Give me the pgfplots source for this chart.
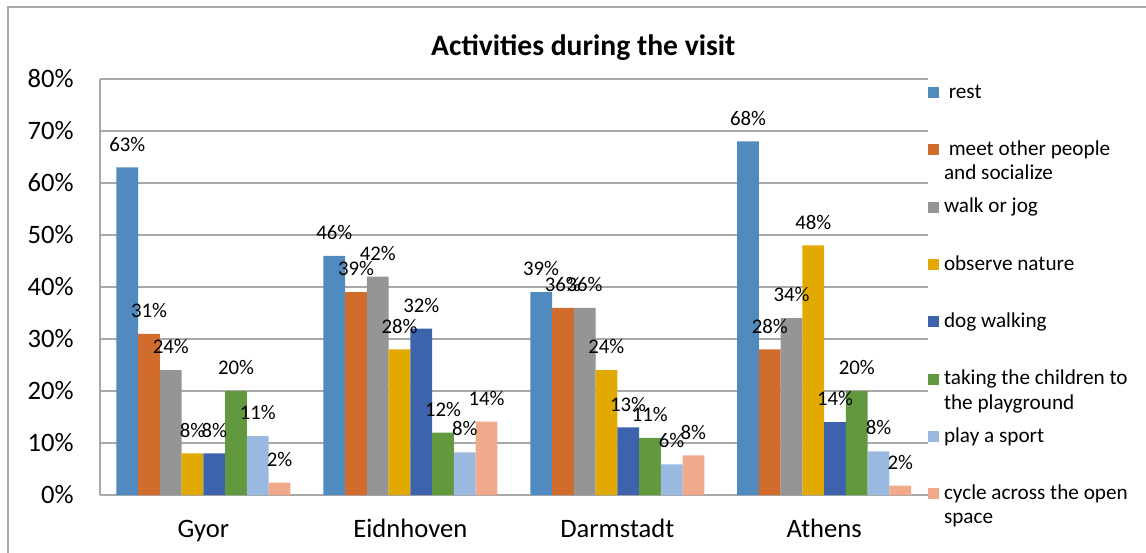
\documentclass[border=0pt]{standalone}
\usepackage{pgfplots}
\pgfplotsset{compat=1.18}
\usepackage{pgfplotstable}
\usepackage{fontspec}
\setmainfont{Carlito}
\definecolor{cRest}{RGB}{80,138,190}
\definecolor{cMeet}{RGB}{210,108,44}
\definecolor{cWalk}{RGB}{149,149,149}
\definecolor{cObs}{RGB}{226,170,0}
\definecolor{cDog}{RGB}{60,99,172}
\definecolor{cKids}{RGB}{99,153,62}
\definecolor{cSport}{RGB}{154,185,224}
\definecolor{cCycle}{RGB}{240,169,138}
\definecolor{gridgray}{RGB}{168,168,168}
\definecolor{framegray}{RGB}{168,168,168}

\pgfplotstableread{
x rest meet walk obs dog kids sport cycle
0 63 31 24 8 8 20 11.3 2.4
1 46 39 42 28 32 12 8.2 14.1
2 39 36 36 24 13 11 5.9 7.6
3 68 28 34 48 14 20 8.4 1.8
}\datatable

\newcommand{\LE}[1]{\parbox[t]{120pt}{\fontsize{10.6pt}{12.25pt}\selectfont\strut #1}}

\begin{document}
\begin{tikzpicture}
\draw[framegray, line width=0.7pt] (4pt,-10pt) rectangle (590pt,272.5pt);
\begin{axis}[
  at={(50pt,28.5pt)}, anchor=south west,
  scale only axis, width=413.8pt, height=208pt,
  xmin=-0.5, xmax=3.5, ymin=0, ymax=80,
  ybar=0pt, bar width=10.875pt,
  xtick={0,1,2,3}, xticklabels={Gyor,Eidnhoven,Darmstadt,Athens},
  ytick={0,10,20,30,40,50,60,70,80},
  yticklabels={0\%,10\%,20\%,30\%,40\%,50\%,60\%,70\%,80\%},
  ymajorgrids, grid style={gridgray, line width=0.7pt},
  axis x line*=bottom, axis y line*=left,
  axis line style={gridgray, line width=0.7pt, -},
  major tick length=0pt,
  tick label style={font=\fontsize{13.3pt}{16pt}\selectfont},
  yticklabel style={anchor=east, inner sep=0pt, xshift=-13pt},
  xticklabel style={anchor=base, inner sep=0pt, yshift=-21pt},
  nodes near coords={\pgfmathprintnumber[fixed,precision=0,assume math mode=true]{\pgfplotspointmeta}\%},
  every node near coord/.append style={font=\fontsize{10.4pt}{12pt}\selectfont, anchor=base, inner sep=0pt, yshift=8.2pt, text=black},
  legend style={at={(1,1)}, anchor=north west, yshift=-1pt, draw=none, fill=none, inner sep=0pt, outer sep=0pt, row sep=18.58pt, column sep=2.7pt, font=\fontsize{10.6pt}{12.25pt}\selectfont, cells={anchor=base west}, nodes={inner sep=0pt}},
  legend image code/.code={\fill[#1] (0pt,0pt) rectangle (5.5pt,5.5pt);},
  clip=false,
]
\addplot[fill=cRest, draw=none] table[x=x,y=rest]{\datatable};
\addlegendentry{\LE{\ rest}}
\addplot[fill=cMeet, draw=none] table[x=x,y=meet]{\datatable};
\addlegendentry{\LE{\ meet other people\newline and socialize}}
\addplot[fill=cWalk, draw=none] table[x=x,y=walk]{\datatable};
\addlegendentry{\LE{walk or jog}}
\addplot[fill=cObs, draw=none] table[x=x,y=obs]{\datatable};
\addlegendentry{\LE{observe nature}}
\addplot[fill=cDog, draw=none] table[x=x,y=dog]{\datatable};
\addlegendentry{\LE{dog walking}}
\addplot[fill=cKids, draw=none] table[x=x,y=kids]{\datatable};
\addlegendentry{\LE{taking the children to\newline the playground}}
\addplot[fill=cSport, draw=none] table[x=x,y=sport]{\datatable};
\addlegendentry{\LE{play a sport}}
\addplot[fill=cCycle, draw=none] table[x=x,y=cycle]{\datatable};
\addlegendentry{\LE{cycle across the open\newline space}}
\node[anchor=base, inner sep=0pt, font=\bfseries\fontsize{14.8pt}{17pt}\selectfont] at (rel axis cs:0.584,1.0577) {Activities during the visit};
\end{axis}
\pgfresetboundingbox
\useasboundingbox (0,0) rectangle (573pt,276pt);
\end{tikzpicture}
\end{document}
